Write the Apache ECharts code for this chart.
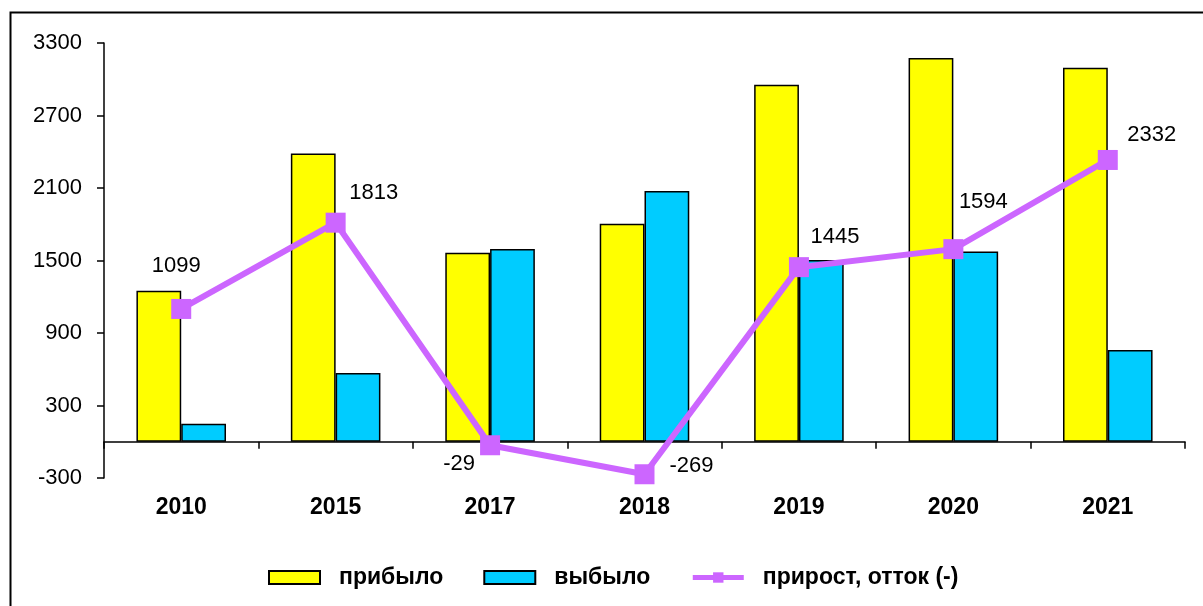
<!DOCTYPE html>
<html>
<head>
<meta charset="utf-8">
<script src="https://cdn.jsdelivr.net/npm/echarts@6/dist/echarts.min.js"></script>
<style>
  html, body { margin: 0; padding: 0; background: #fff; }
  #main { width: 1203px; height: 606px; }
</style>
</head>
<body>
<div id="main"></div>
<script>
// years
var years = ['2010', '2015', '2017', '2018', '2019', '2020', '2021'];
// прибыло
var arrived = [1250, 2385, 1565, 1805, 2955, 3175, 3095];
// выбыло
var departed = [150, 570, 1595, 2075, 1505, 1575, 760];
// прирост, отток (-)
var balance = [1099, 1813, -29, -269, 1445, 1594, 2332];
var yTicks = [-300, 300, 900, 1500, 2100, 2700, 3300];

// where each number sits relative to its point
var labelOffsets = [[-5, -43], [38, -30], [-31, 19], [47, -8], [36, -30], [30, -47], [44, -25]];

var chart = echarts.init(document.getElementById('main'));
var font = 'Liberation Sans, Arial, sans-serif';

var option = {
    backgroundColor: '#fff',
    animation: false,
    textStyle: { fontFamily: font },
    graphic: [{
        type: 'rect',
        shape: { x: 10.5, y: 12.5, width: 1205, height: 610 },
        style: { fill: 'none', stroke: '#000', lineWidth: 2 }
    }],
    grid: { left: 104, right: 18, top: 43, bottom: 128 },
    legend: {
        left: 263,
        top: 561,
        itemWidth: 51,
        itemHeight: 13,
        itemGap: 40,
        textStyle: { fontSize: 23, fontWeight: 'bold', color: '#000', fontFamily: font, padding: [0, 0, 0, 14] },
        data: [
            { name: 'прибыло', icon: 'rect', itemStyle: { borderWidth: 2 } },
            { name: 'выбыло', icon: 'rect', itemStyle: { borderWidth: 2 } },
            { name: 'прирост, отток (-)', lineStyle: { width: 5 } }
        ]
    },
    xAxis: [{
        type: 'category',
        data: years,
        axisLine: { onZero: true, lineStyle: { color: '#000', width: 1.5 } },
        axisTick: { show: true, length: 7, lineStyle: { color: '#000', width: 1.5 } },
        axisLabel: { show: false }
    }, {
        type: 'category',
        data: years,
        position: 'bottom',
        axisLine: { show: false, onZero: false },
        axisTick: { show: false },
        axisLabel: { margin: 18, fontSize: 23, fontWeight: 'bold', color: '#000', fontFamily: font }
    }],
    yAxis: {
        type: 'value',
        min: yTicks[0],
        max: yTicks[yTicks.length - 1],
        interval: 600,
        axisLine: { show: true, lineStyle: { color: '#000', width: 1.5 } },
        axisTick: { show: true, length: 7, lineStyle: { color: '#000', width: 1.5 } },
        splitLine: { show: false },
        axisLabel: {
            margin: 22, fontSize: 22, color: '#000', fontFamily: font,
            formatter: function (v) { return String(v); }
        }
    },
    series: [{
        name: 'прибыло',
        type: 'bar',
        data: arrived,
        barGap: '0%',
        barCategoryGap: '42%',
        itemStyle: { color: '#FFFF00', borderColor: '#000', borderWidth: 1.5 }
    }, {
        name: 'выбыло',
        type: 'bar',
        data: departed,
        itemStyle: { color: '#00CCFF', borderColor: '#000', borderWidth: 1.5 }
    }, {
        name: 'прирост, отток (-)',
        type: 'line',
        data: balance.map(function (v, i) {
            return { value: v, label: { offset: labelOffsets[i] } };
        }),
        symbol: 'rect',
        symbolSize: 20,
        z: 5,
        lineStyle: { color: '#CC66FF', width: 6 },
        itemStyle: { color: '#CC66FF' },
        label: {
            show: true,
            position: 'inside',
            fontSize: 22,
            color: '#000',
            fontFamily: font
        }
    }]
};

chart.setOption(option);
</script>
</body>
</html>
